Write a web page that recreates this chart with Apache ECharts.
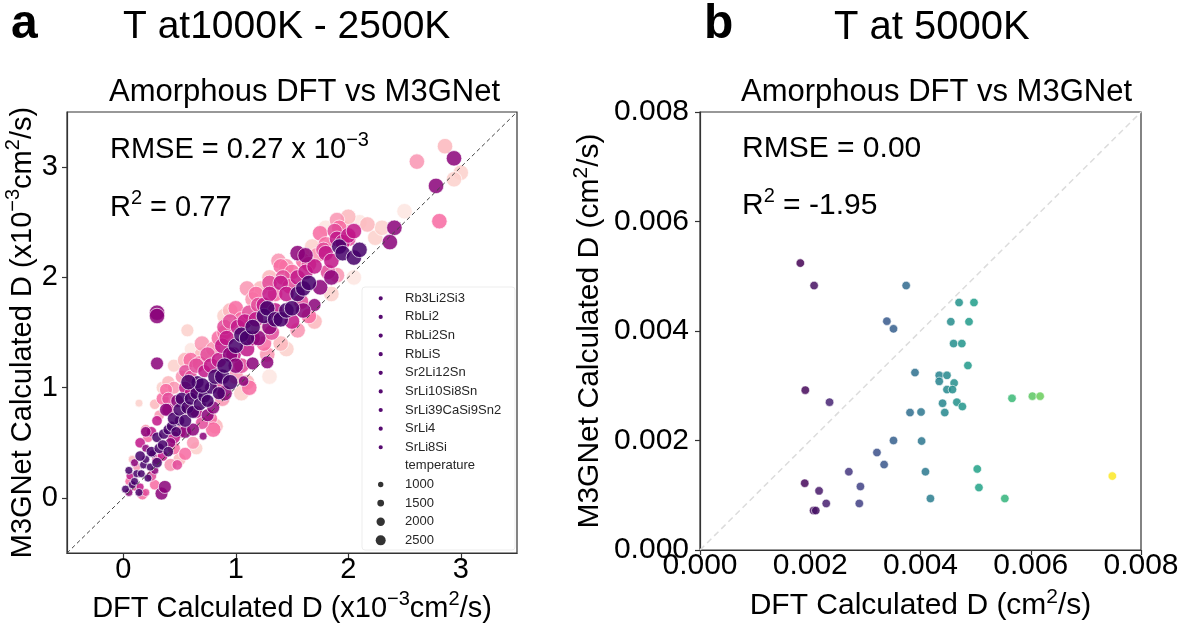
<!DOCTYPE html>
<html><head><meta charset="utf-8">
<script src="https://cdn.jsdelivr.net/npm/echarts@6/dist/echarts.min.js"></script>
<style>html,body{margin:0;padding:0;background:#fff}#c{width:1186px;height:628px}</style>
</head><body><div id="c"></div>
<script>
// ---------- data ----------
const compounds = ['Rb3Li2Si3','RbLi2','RbLi2Sn','RbLiS','Sr2Li12Sn','SrLi10Si8Sn','SrLi39CaSi9Sn2','SrLi4','SrLi8Si'];
const compoundColors = ['#fde5e1','#fcd0cb','#fbb6bc','#f994b1','#f768a1','#e24999','#c11588','#8a0179','#45006a'];
const tempLevels = [1000,1500,2000,2500];
const leftTicks = [0,1,2,3];

// [DFT D, M3GNet D, temperature]  (x10^-3 cm^2/s)
const Rb3Li2Si3 = [[2.1,2.5,2500],[2.5,2.6,2500],[1.8,2.45,2500],[0.6,1.35,2000],[1.3,1.1,2500],[2.05,2.0,2500]];
const RbLi2 = [[0.14,0.86,1000],[0.57,1.52,2000],[0.35,1.0,2000],[0.65,0.45,2000],[0.45,1.2,2000],[0.9,1.65,2500],[1.05,0.95,2500],[1.2,1.55,2500],[1.45,1.35,2500],[1.68,2.28,2500],[1.85,1.85,2500],[2.24,2.36,2500],[2.3,2.45,2500],[3.0,2.95,2500],[2.94,2.89,2500]];
const RbLi2Sn = [[0.08,0.35,1000],[0.28,0.85,1500],[0.4,1.05,2000],[0.5,0.35,2000],[0.55,1.25,2500],[0.7,1.3,2500],[0.82,0.65,2500],[0.95,1.7,2500],[1.1,1.05,2500],[1.22,1.9,2500],[1.3,2.0,2500],[1.4,1.4,2500],[1.6,2.2,2500],[1.7,1.6,2500],[1.95,2.45,2500],[2.0,2.55,2500],[2.17,2.48,2500],[2.86,3.19,2500]];
const RbLiS = [[0.12,0.28,1000],[0.2,0.62,1500],[0.32,0.75,1500],[0.42,0.3,2000],[0.45,1.0,2000],[0.52,1.1,2000],[0.62,0.5,2000],[0.7,1.4,2500],[0.8,1.35,2500],[0.88,0.9,2500],[1.0,1.1,2500],[1.1,1.9,2500],[1.15,1.8,2500],[1.28,1.3,2500],[1.38,2.15,2500],[1.45,2.1,2500],[1.55,1.52,2500],[1.72,2.2,2500],[1.9,2.02,2500],[1.9,2.52,2500],[2.61,3.05,2500]];
const Sr2Li12Sn = [[0.05,0.15,1000],[0.17,0.03,1500],[0.28,0.12,1500],[0.22,0.55,1500],[0.35,0.9,2000],[0.38,0.98,2000],[0.45,0.45,2000],[0.55,0.4,2000],[0.58,0.8,2000],[0.78,0.72,2000],[0.6,1.25,2500],[0.68,1.22,2500],[0.8,0.62,2500],[0.85,1.45,2500],[0.9,1.5,2500],[1.0,1.72,2500],[1.05,1.62,2500],[1.12,1.0,2500],[1.18,1.85,2500],[1.25,1.4,2500],[1.35,1.85,2500],[1.4,2.1,2500],[1.5,2.05,2500],[1.6,2.15,2500],[1.65,1.65,2500],[1.75,2.4,2500],[1.8,2.3,2500],[1.92,2.45,2500],[2.81,2.51,2500]];
const SrLi10Si8Sn = [[0.1,0.1,1000],[0.2,0.05,1000],[0.25,0.2,1500],[0.3,0.35,1500],[0.48,0.3,1500],[0.4,0.9,2000],[0.5,0.6,2000],[0.55,1.15,2000],[0.6,1.1,2000],[0.7,0.68,2000],[0.85,1.0,2000],[0.65,1.2,2500],[0.75,1.3,2500],[0.9,1.55,2500],[0.95,1.6,2500],[1.05,1.2,2500],[1.12,1.68,2500],[1.2,1.75,2500],[1.3,1.95,2500],[1.32,1.5,2500],[1.42,2.0,2500],[1.48,1.92,2500],[1.58,1.78,2500],[1.65,2.12,2500],[1.78,2.25,2500],[1.82,2.05,2500],[1.88,2.42,2500],[2.0,2.35,2500]];
const SrLi39CaSi9Sn2 = [[0.06,0.2,1000],[0.15,0.1,1000],[0.15,0.5,1500],[0.25,0.6,1500],[0.3,0.7,1500],[0.35,0.38,1500],[0.4,0.8,2000],[0.45,0.55,2000],[0.55,1.0,2000],[0.6,0.95,2000],[0.65,0.78,2000],[0.72,1.15,2000],[0.78,1.2,2500],[0.85,1.25,2500],[0.88,1.38,2500],[0.92,1.45,2500],[0.98,1.3,2500],[1.02,1.55,2500],[1.08,1.6,2500],[1.1,1.35,2500],[1.15,1.45,2500],[1.18,1.62,2500],[1.25,1.75,2500],[1.3,1.85,2500],[1.35,1.7,2500],[1.4,1.95,2500],[1.45,1.85,2500],[1.5,1.6,2500],[1.55,2.0,2500],[1.62,2.05,2500],[1.7,2.1,2500],[1.8,2.22,2500],[1.85,2.15,2500],[1.9,2.35,2500],[1.95,2.32,2500],[2.0,2.38,2500],[2.05,2.42,2500]];
const SrLi4 = [[0.05,0.05,1000],[0.1,0.32,1000],[0.2,0.45,1000],[0.28,0.25,1000],[0.71,0.56,1000],[0.2,0.6,1500],[0.42,0.5,1500],[1.07,1.06,1500],[0.3,1.22,2000],[0.48,0.88,2000],[0.38,0.8,2000],[0.55,0.6,2000],[0.62,0.62,2000],[0.75,0.75,2000],[0.8,0.82,2000],[1.15,1.22,2000],[1.28,1.23,2000],[1.7,1.75,2000],[0.34,0.04,2000],[0.37,0.1,2000],[0.3,1.68,2500],[0.3,1.65,2500],[0.9,0.95,2500],[0.95,1.3,2500],[1.0,1.2,2500],[1.2,1.45,2500],[1.3,1.55,2500],[1.55,2.22,2500],[1.6,1.7,2500],[1.62,2.2,2500],[1.75,1.91,2500],[1.85,2.0,2500],[2.41,2.45,2500],[2.37,2.32,2500],[2.78,2.83,2500],[2.94,3.08,2500]];
const SrLi8Si = [[0.02,0.08,1000],[0.05,0.25,1000],[0.08,0.12,1000],[0.1,0.15,1000],[0.12,0.22,1000],[0.14,0.05,1000],[0.16,0.22,1000],[0.18,0.3,1000],[0.2,0.35,1000],[0.22,0.18,1000],[0.24,0.28,1000],[0.26,0.4,1000],[0.15,0.38,1500],[0.25,0.42,1500],[0.3,0.55,1500],[0.3,0.32,1500],[0.32,0.45,1500],[0.35,0.48,1500],[0.36,0.58,1500],[0.4,0.62,1500],[0.4,0.42,1500],[0.43,0.65,1500],[0.47,0.6,1500],[0.5,0.7,1500],[0.45,0.72,2000],[0.5,0.8,2000],[0.52,0.9,2000],[0.55,0.7,2000],[0.57,0.82,2000],[0.6,0.9,2000],[0.62,0.78,2000],[0.65,0.95,2000],[0.66,1.05,2000],[0.68,0.85,2000],[0.72,0.92,2000],[0.75,0.88,2000],[0.78,1.0,2000],[0.85,0.95,2000],[0.7,1.02,2500],[0.58,1.05,2500],[0.82,1.1,2500],[0.88,1.1,2500],[0.9,1.2,2500],[0.95,1.05,2500],[1.0,1.38,2500],[1.05,1.48,2500],[1.1,1.45,2500],[1.15,1.55,2500],[1.25,1.65,2500],[1.28,1.72,2500],[1.35,1.62,2500],[1.4,1.62,2500],[1.45,1.7,2500],[1.5,1.72,2500],[1.55,1.85,2500],[1.6,1.9,2500],[1.65,1.95,2500],[1.92,2.28,2500],[1.95,2.22,2500],[2.05,2.18,2500],[2.1,2.25,2500]];
const leftData = [Rb3Li2Si3,RbLi2,RbLi2Sn,RbLiS,Sr2Li12Sn,SrLi10Si8Sn,SrLi39CaSi9Sn2,SrLi4,SrLi8Si];

// panel b (cm^2/s)
const dftB = [0.00182,0.00207,0.00374,0.00470,0.00497,0.00339,0.00351,0.00455,0.00488,0.00460,0.00475,0.00486,0.00390,0.00434,0.00448,0.00434,0.00461,0.00448,0.00458,0.00566,0.00603,0.00617,0.00191,0.00235,0.00440,0.00466,0.00476,0.00381,0.00401,0.00444,0.00351,0.00402,0.00321,0.00334,0.00270,0.00409,0.00503,0.00506,0.00748,0.00190,0.00216,0.00291,0.00229,0.00289,0.00418,0.00553,0.00206,0.00210];
const m3gB = [0.00524,0.00483,0.00483,0.00452,0.00452,0.00418,0.00404,0.00417,0.00417,0.00377,0.00377,0.00337,0.00324,0.00319,0.00319,0.00308,0.00305,0.00293,0.00293,0.00277,0.00281,0.00281,0.00292,0.00270,0.00268,0.00270,0.00262,0.00251,0.00252,0.00251,0.00200,0.00199,0.00178,0.00156,0.00143,0.00143,0.00148,0.00114,0.00135,0.00122,0.00108,0.00116,0.00085,0.00085,0.00094,0.00094,0.00072,0.00072];

// ---------- styling ----------
const FONT = "'Liberation Sans', Arial, Helvetica, sans-serif";
const AX = '#333';
const markerSize = {1000: 8, 1500: 10.5, 2000: 13, 2500: 15.5};
const legendSize = {1000: 5.4, 1500: 6.8, 2000: 8.4, 2500: 10};
const viridis = ['#440154','#482878','#3e4989','#31688e','#26828e','#1f9e89','#35b779','#6ece58','#b5de2b','#fde725'];

function rich(fs, sfs){
  return {
    n: {fontSize: fs, lineHeight: 34, verticalAlign: 'bottom', fontFamily: FONT, color: '#000'},
    s: {fontSize: sfs, lineHeight: 26, verticalAlign: 'top', fontFamily: FONT, color: '#000'}
  };
}
function axisCommon(extra){
  return Object.assign({
    type: 'value',
    axisLine: {show: true, onZero: false, lineStyle: {color: AX, width: 1.2}},
    splitLine: {show: false},
    nameLocation: 'middle'
  }, extra);
}

const series = leftData.map((d, i) => ({
  type: 'scatter', name: compounds[i], xAxisIndex: 0, yAxisIndex: 0,
  data: d,
  symbolSize: v => markerSize[v[2]],
  itemStyle: {color: compoundColors[i], opacity: 0.85, borderColor: '#fff', borderWidth: 0.8},
  z: 2
}));
series.push({
  type: 'line', xAxisIndex: 0, yAxisIndex: 0, data: [[-0.5,-0.5],[3.5,3.5]],
  symbol: 'none', silent: true, z: 4,
  lineStyle: {color: '#444', width: 1, type: [4, 3]}
});
series.push({
  type: 'line', xAxisIndex: 1, yAxisIndex: 1, data: [[0,0],[0.008,0.008]],
  symbol: 'none', silent: true, z: 1,
  lineStyle: {color: '#dcdcdc', width: 1.5, type: [6, 4]}
});
const bIndex = series.length;
series.push({
  type: 'scatter', xAxisIndex: 1, yAxisIndex: 1,
  data: dftB.map((x, i) => [x, m3gB[i]]),
  symbolSize: 8.5,
  itemStyle: {opacity: 0.85, borderColor: '#fff', borderWidth: 0.7},
  z: 2
});

// ---------- graphic texts & legend ----------
const g = [];
function txt(x, y, text, fs, opts){
  g.push(Object.assign({type: 'text', x: x, y: y, silent: true,
    style: Object.assign({text: text, fontSize: fs, fontFamily: FONT, fill: '#000', align: 'left', verticalAlign: 'middle'}, opts || {})}));
}
txt(11, 25, 'a', 48, {fontWeight: 'bold'});
txt(123, 27, 'T at1000K - 2500K', 39);
txt(109, 92.5, 'Amorphous DFT vs M3GNet', 31);
txt(704, 25, 'b', 48, {fontWeight: 'bold'});
txt(834, 28, 'T at 5000K', 40);
txt(741, 92, 'Amorphous DFT vs M3GNet', 31);
function richTxt(x, top, text, fs, sfs){
  g.push({type: 'text', x: x, y: top, silent: true,
    style: {text: text, rich: rich(fs, sfs), align: 'left', verticalAlign: 'top', fontFamily: FONT, fill: '#000'}});
}
richTxt(110, 130.5, '{n|RMSE = 0.27 x 10}{s|−3}', 29, 20);
richTxt(110, 188.5, '{n|R}{s|2}{n| = 0.77}', 29, 20);
richTxt(742, 129.5, '{n|RMSE = 0.00}', 30, 20);
richTxt(742, 186.5, '{n|R}{s|2}{n| = -1.95}', 30, 20);

// legend box
g.push({type: 'rect', silent: true, shape: {x: 362, y: 287, width: 153, height: 263, r: 3},
  style: {fill: 'rgba(255,255,255,0.8)', stroke: '#ededed', lineWidth: 1}, z: 10});
const rowY = i => 298.3 + 18.62 * i;
compounds.forEach((c, i) => {
  g.push({type: 'circle', silent: true, shape: {cx: 380.7, cy: rowY(i), r: 2.1}, style: {fill: '#560a70'}, z: 11});
  g.push({type: 'text', silent: true, x: 405, y: rowY(i), z: 11,
    style: {text: c, fontSize: 13, fontFamily: FONT, fill: '#262626', verticalAlign: 'middle'}});
});
g.push({type: 'text', silent: true, x: 405, y: rowY(9), z: 11,
  style: {text: 'temperature', fontSize: 13, fontFamily: FONT, fill: '#262626', verticalAlign: 'middle'}});
tempLevels.forEach((t, k) => {
  const i = 10 + k;
  g.push({type: 'circle', silent: true, shape: {cx: 380.7, cy: rowY(i), r: legendSize[t] / 2}, style: {fill: '#333'}, z: 11});
  g.push({type: 'text', silent: true, x: 405, y: rowY(i), z: 11,
    style: {text: String(t), fontSize: 13, fontFamily: FONT, fill: '#262626', verticalAlign: 'middle'}});
});

const option = {
  animation: false,
  backgroundColor: '#fff',
  textStyle: {fontFamily: FONT},
  grid: [
    {left: 67, top: 112, width: 450, height: 447, show: true, borderColor: AX, borderWidth: 1.2, backgroundColor: 'rgba(0,0,0,0)'},
    {left: 700, top: 112, width: 441, height: 438, show: true, borderColor: AX, borderWidth: 1.2, backgroundColor: 'rgba(0,0,0,0)'}
  ],
  xAxis: [
    axisCommon({gridIndex: 0, min: -0.5, max: 3.5,
      axisTick: {show: true, customValues: leftTicks, length: 5, lineStyle: {color: AX, width: 1.2}},
      axisLabel: {customValues: leftTicks, fontSize: 29, color: '#000', margin: 2, fontFamily: FONT},
      name: '{n|DFT Calculated D (x10}{s|−3}{n|cm}{s|2}{n|/s)}', nameGap: 33,
      nameTextStyle: {rich: rich(29, 20)}}),
    axisCommon({gridIndex: 1, min: 0, max: 0.008, interval: 0.002,
      axisTick: {show: true, length: 5, lineStyle: {color: AX, width: 1.2}},
      axisLabel: {fontSize: 30, color: '#000', margin: 1, fontFamily: FONT, formatter: v => v.toFixed(3)},
      name: '{n|DFT Calculated D (cm}{s|2}{n|/s)}', nameGap: 37,
      nameTextStyle: {rich: rich(30, 21)}})
  ],
  yAxis: [
    axisCommon({gridIndex: 0, min: -0.5, max: 3.5,
      axisTick: {show: true, customValues: leftTicks, length: 5, lineStyle: {color: AX, width: 1.2}},
      axisLabel: {customValues: leftTicks, fontSize: 29, color: '#000', margin: 9, fontFamily: FONT},
      name: '{n|M3GNet Calculated D (x10}{s|−3}{n|cm}{s|2}{n|/s)}', nameGap: 21, nameRotate: 90,
      nameTextStyle: {rich: rich(29, 20)}}),
    axisCommon({gridIndex: 1, min: 0, max: 0.008, interval: 0.002,
      axisTick: {show: true, length: 5, lineStyle: {color: AX, width: 1.2}},
      axisLabel: {fontSize: 30, color: '#000', margin: 11, fontFamily: FONT, formatter: v => v.toFixed(3)},
      name: '{n|M3GNet Calculated D (cm}{s|2}{n|/s)}', nameGap: 95, nameRotate: 90,
      nameTextStyle: {rich: rich(30, 21)}})
  ],
  visualMap: [{type: 'continuous', show: false, seriesIndex: bIndex, dimension: 0,
    min: 0.0018, max: 0.0075, inRange: {color: viridis}}],
  series: series,
  graphic: g
};
const chart = echarts.init(document.getElementById('c'), null, {renderer: 'canvas'});
chart.setOption(option);
</script></body></html>
